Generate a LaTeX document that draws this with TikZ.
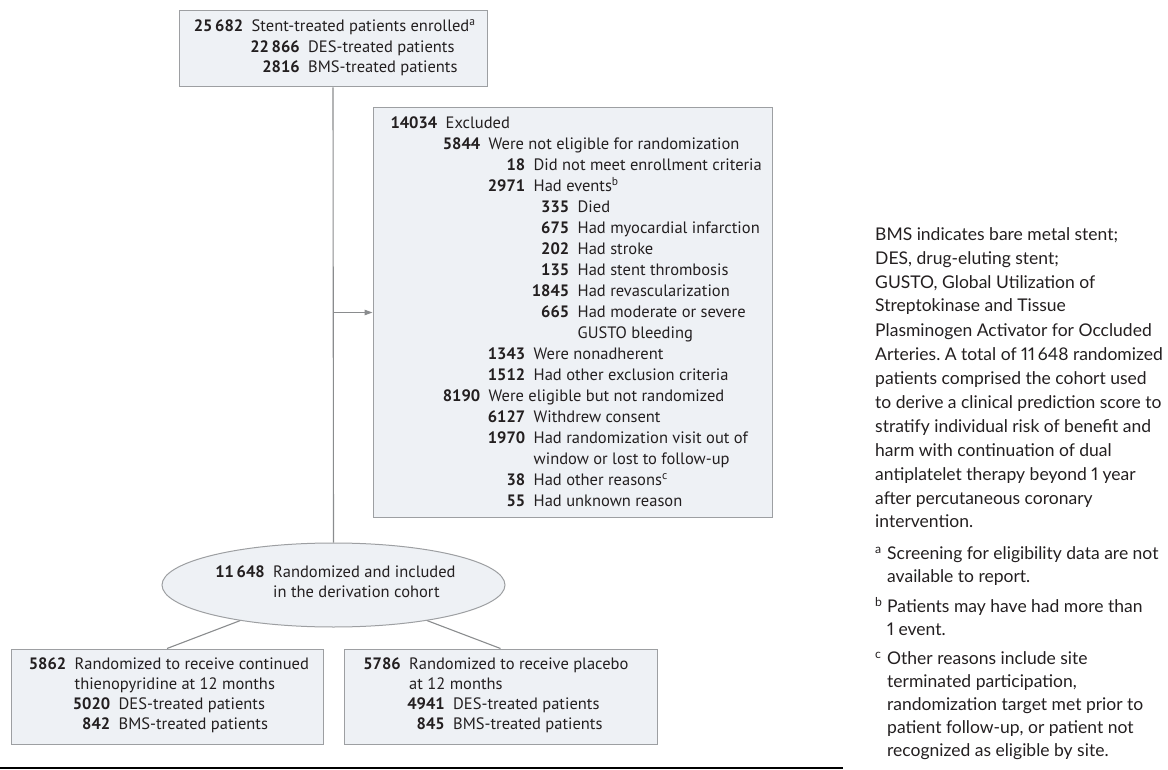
\documentclass[tikz,border=0pt]{standalone}
\usepackage{fontspec}
\setmainfont{PT Sans}
\newfontfamily\legfont[Numbers=Proportional]{Lato}
\usetikzlibrary{shapes.geometric,arrows.meta}
\definecolor{boxfill}{HTML}{EEF1F5}
\definecolor{boxline}{HTML}{9D9FA2}
\definecolor{conn}{HTML}{8A8C8E}
\definecolor{ink}{HTML}{231F20}
\frenchspacing
\newcommand\dfont{\fontsize{16.5}{20}\selectfont}
\newcommand\lfont{\legfont\fontsize{17.5}{22}\selectfont}
% \entry{name}{x}{y}{number}{text}
\newcommand\entry[5]{%
  \node[numst] (#1-n) at (#2,#3) {#4};%
  \node[txtst] (#1) at (#2,#3) {#5};}
\newcommand\cont[4]{\node[txtst] (#1) at (#2,#3) {#4};}
\newcommand\leg[4]{\node[legst] (#1) at (#2,#3) {#4};}
\begin{document}
\begin{tikzpicture}[x=1pt,y=-1pt,
  box/.style={draw=boxline, fill=boxfill, line width=1pt, inner sep=0pt, rectangle},
  ell/.style={draw=boxline, fill=boxfill, line width=1pt, inner sep=0pt, ellipse},
  conline/.style={draw=conn, line width=1.1pt},
  arr/.style={draw=conn, line width=1.1pt, -{Triangle[length=8pt,width=5.5pt]}},
  numst/.style={anchor=mid east, inner sep=0pt, xshift=-4pt, font={\dfont\bfseries}, text=ink},
  txtst/.style={anchor=mid west, inner sep=0pt, xshift=4pt, font=\dfont, text=ink},
  legst/.style={anchor=mid west, inner sep=0pt, font=\lfont, text=ink}]
\useasboundingbox (0,0) rectangle (1168,770);

% ---- boxes ----
\node[box, minimum width=308pt, minimum height=76pt] (top) at (333,49) {};
\node[box, minimum width=399pt, minimum height=409pt] (excl) at (572.5,312.5) {};
\node[ell, minimum width=343pt, minimum height=84pt] (rand) at (333.5,585) {};
\node[box, minimum width=312pt, minimum height=95pt] (armA) at (167,696.5) {};
\node[box, minimum width=313pt, minimum height=95pt] (armB) at (500.5,696.5) {};

% ---- connectors ----
\coordinate (branch) at (top.south |- excl.west);
\draw[conline] (top.south) -- (rand.north);
\draw[arr] (branch) -- (excl.west);
\draw[conline] (rand) -- (armA.north);
\draw[conline] (rand) -- (armB.north);

% ---- top box text ----
\entry{t0}{247.5}{29}{25\,682}{Stent-treated patients enrolled\textsuperscript{a}}
\entry{t1}{304}{50}{22\,866}{DES-treated patients}
\entry{t2}{304}{70}{2816}{BMS-treated patients}

% ---- excluded box text ----
\entry{e0}{441.5}{126}{14034}{Excluded}
\entry{e1}{484.5}{147}{5844}{Were not eligible for randomization}
\entry{e2}{529.5}{168}{18}{Did not meet enrollment criteria}
\entry{e3}{529.5}{189}{2971}{Had events\textsuperscript{b}}
\entry{e4}{573.5}{210}{335}{Died}
\entry{e5}{573.5}{231}{675}{Had myocardial infarction}
\entry{e6}{573.5}{252}{202}{Had stroke}
\entry{e7}{573.5}{273}{135}{Had stent thrombosis}
\entry{e8}{573.5}{294}{1845}{Had revascularization}
\entry{e9}{573.5}{315}{665}{Had moderate or severe}
\cont{e10}{573.5}{336}{GUSTO bleeding}
\entry{e11}{529.5}{357}{1343}{Were nonadherent}
\entry{e12}{529.5}{378}{1512}{Had other exclusion criteria}
\entry{e13}{484.5}{399}{8190}{Were eligible but not randomized}
\entry{e14}{529.5}{420}{6127}{Withdrew consent}
\entry{e15}{529.5}{441}{1970}{Had randomization visit out of}
\cont{e16}{529.5}{462}{window or lost to follow-up}
\entry{e17}{529.5}{483}{38}{Had other reasons\textsuperscript{c}}
\entry{e18}{529.5}{504}{55}{Had unknown reason}

% ---- ellipse text ----
\entry{r0}{269}{575}{11\,648}{Randomized and included}
\cont{r1}{269}{595}{in the derivation cohort}

% ---- arm A ----
\entry{a0}{70.5}{667}{5862}{Randomized to receive continued}
\cont{a1}{70.5}{687}{thienopyridine at 12 months}
\entry{a2}{114.5}{707}{5020}{DES-treated patients}
\entry{a3}{114.5}{727}{842}{BMS-treated patients}

% ---- arm B ----
\entry{b0}{405}{667}{5786}{Randomized to receive placebo}
\cont{b1}{405}{687}{at 12 months}
\entry{b2}{449}{707}{4941}{DES-treated patients}
\entry{b3}{449}{727}{845}{BMS-treated patients}

% ---- legend ----
\leg{g0}{875}{238}{BMS indicates bare metal stent;}
\leg{g1}{875}{262}{DES, drug-eluting stent;}
\leg{g2}{875}{285.5}{GUSTO, Global Utilization of}
\leg{g3}{875}{309.5}{Streptokinase and Tissue}
\leg{g4}{875}{333.5}{Plasminogen Activator for Occluded}
\leg{g5}{875}{357.5}{Arteries. A total of 11\,648 randomized}
\leg{g6}{875}{381.5}{patients comprised the cohort used}
\leg{g7}{875}{405.5}{to derive a clinical prediction score to}
\leg{g8}{875}{429.5}{stratify individual risk of benefit and}
\leg{g9}{875}{453.5}{harm with continuation of dual}
\leg{g10}{875}{477.5}{antiplatelet therapy beyond 1 year}
\leg{g11}{875}{501.5}{after percutaneous coronary}
\leg{g12}{875}{525}{intervention.}

\leg{fa}{875}{557}{\textsuperscript{a}}
\leg{fa1}{887}{557}{Screening for eligibility data are not}
\leg{fa2}{887}{580}{available to report.}
\leg{fb}{875}{610}{\textsuperscript{b}}
\leg{fb1}{887}{610}{Patients may have had more than}
\leg{fb2}{887}{633}{1 event.}
\leg{fc}{875}{662}{\textsuperscript{c}}
\leg{fc1}{887}{662}{Other reasons include site}
\leg{fc2}{887}{685}{terminated participation,}
\leg{fc3}{887}{708}{randomization target met prior to}
\leg{fc4}{887}{731}{patient follow-up, or patient not}
\leg{fc5}{887}{754}{recognized as eligible by site.}

% ---- bottom rule ----
\coordinate (ruleL) at (0,768);
\coordinate (ruleR) at (843,768);
\draw[line width=1.2pt, black] (ruleL) -- (ruleR);
\end{tikzpicture}
\end{document}
